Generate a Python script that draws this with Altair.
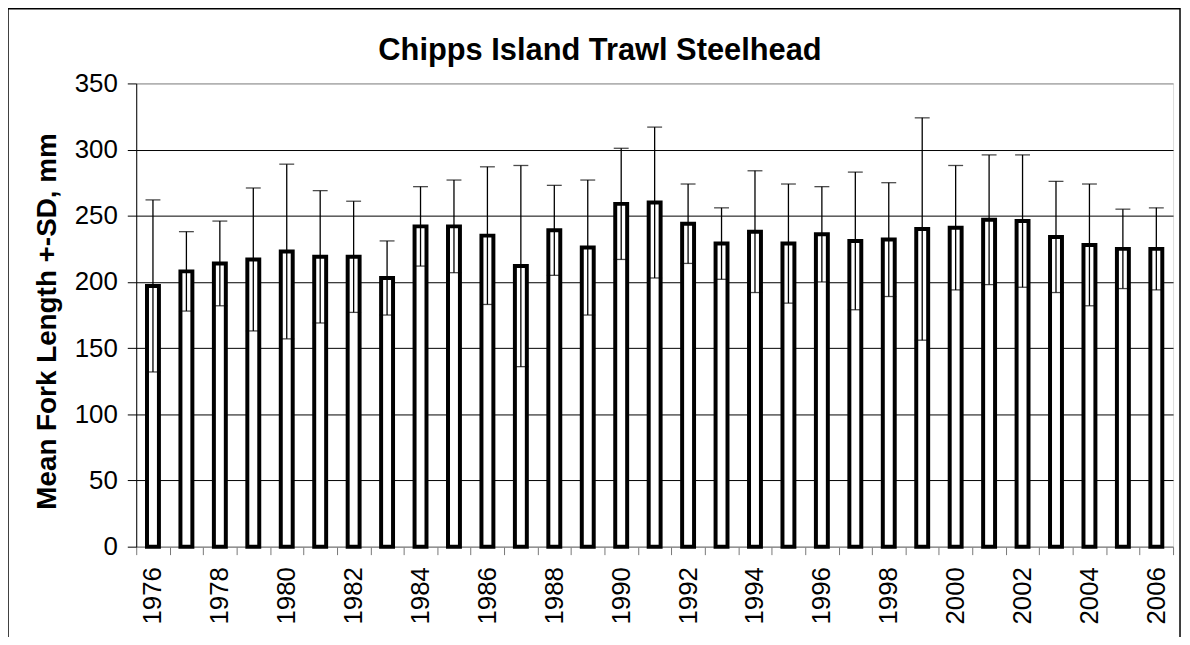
import altair as alt
import pandas as pd

years = list(range(1976, 2007))
means = [197, 208, 214, 217, 223, 219, 219, 203, 242, 242, 235, 212, 239, 226, 259, 260,
         244, 229, 238, 229, 236, 231, 232, 240, 241, 247, 246, 234, 228, 225, 225]
sds = [65, 30, 32, 54, 66, 50, 42, 28, 30, 35, 52, 76, 34, 51, 42, 57,
       30, 27, 46, 45, 36, 52, 43, 84, 47, 49, 50, 42, 46, 30, 31]

df = pd.DataFrame({"year": years, "mean": means, "sd": sds})
df["upper"] = df["mean"] + df["sd"]
df["lower"] = df["mean"] - df["sd"]

FONT = "Liberation Sans"

x_enc = alt.X(
    "year:O",
    scale=alt.Scale(paddingInner=0, paddingOuter=0),
    axis=alt.Axis(
        title=None,
        labelAngle=-90,
        labelFontSize=26,
        labelFont=FONT,
        labelColor="black",
        labelPadding=12,
        labelOverlap=False,
        labelExpr="datum.value % 2 == 0 ? datum.label : ''",
        tickBand="extent",
        tickSize=8,
        tickColor="#777777",
        domainColor="#888888",
        grid=False,
    ),
)

y_scale = alt.Scale(domain=[0, 350], nice=False, zero=True)
y_axis = alt.Axis(
    title="Mean Fork Length +-SD, mm",
    titleFont=FONT,
    titleFontSize=28,
    titleFontWeight="bold",
    titleColor="black",
    titleX=-89,
    titleY=239,
    titleAlign="center",
    titleBaseline="middle",
    titleAngle=270,
    values=[0, 50, 100, 150, 200, 250, 300, 350],
    labelFont=FONT,
    labelFontSize=26,
    labelColor="black",
    labelPadding=10,
    tickSize=9,
    tickColor="black",
    domainColor="black",
    grid=True,
    gridColor={"condition": {"test": "datum.value == 350 || datum.value == 0", "value": "#888888"},
               "value": "#000000"},
    gridWidth=1,
)

base = alt.Chart(df)

bars = base.mark_bar(size=12, fill="white", stroke="black", strokeWidth=4).encode(
    x=x_enc,
    y=alt.Y("mean:Q", scale=y_scale, axis=y_axis),
)

err = base.mark_rule(color="black", strokeWidth=1.3).encode(
    x=alt.X("year:O"),
    y=alt.Y("lower:Q"),
    y2="upper:Q",
)

cap_top = base.mark_tick(color="black", size=15, thickness=1.3).encode(
    x=alt.X("year:O"),
    y=alt.Y("upper:Q"),
)

cap_bot = base.mark_tick(color="black", size=15, thickness=1.3).encode(
    x=alt.X("year:O"),
    y=alt.Y("lower:Q"),
)

frame = alt.Chart(pd.DataFrame({"f": [0]})).mark_rect(
    fill=None, stroke="black", strokeWidth=1.5
).encode(
    x=alt.value(-129),
    x2=alt.value(1050),
    y=alt.value(-75),
    y2=alt.value(600),
)

chart = alt.layer(bars, err, cap_top, cap_bot, frame).properties(
    width=1043,
    height=466,
    padding={"left": 129, "top": 74, "right": 9, "bottom": 89},
    autosize=alt.AutoSizeParams(type="none"),
    title=alt.TitleParams(
        text="Chipps Island Trawl Steelhead",
        font=FONT,
        fontSize=31,
        fontWeight="bold",
        color="black",
        anchor="middle",
        frame="group",
        baseline="alphabetic",
        offset=0,
        dx=-55,
        dy=83,
    ),
).configure_view(
    stroke="#888888", strokeWidth=1
).configure(background="white")

chart.save("out.html", embed_options={"renderer": "svg", "actions": False})
